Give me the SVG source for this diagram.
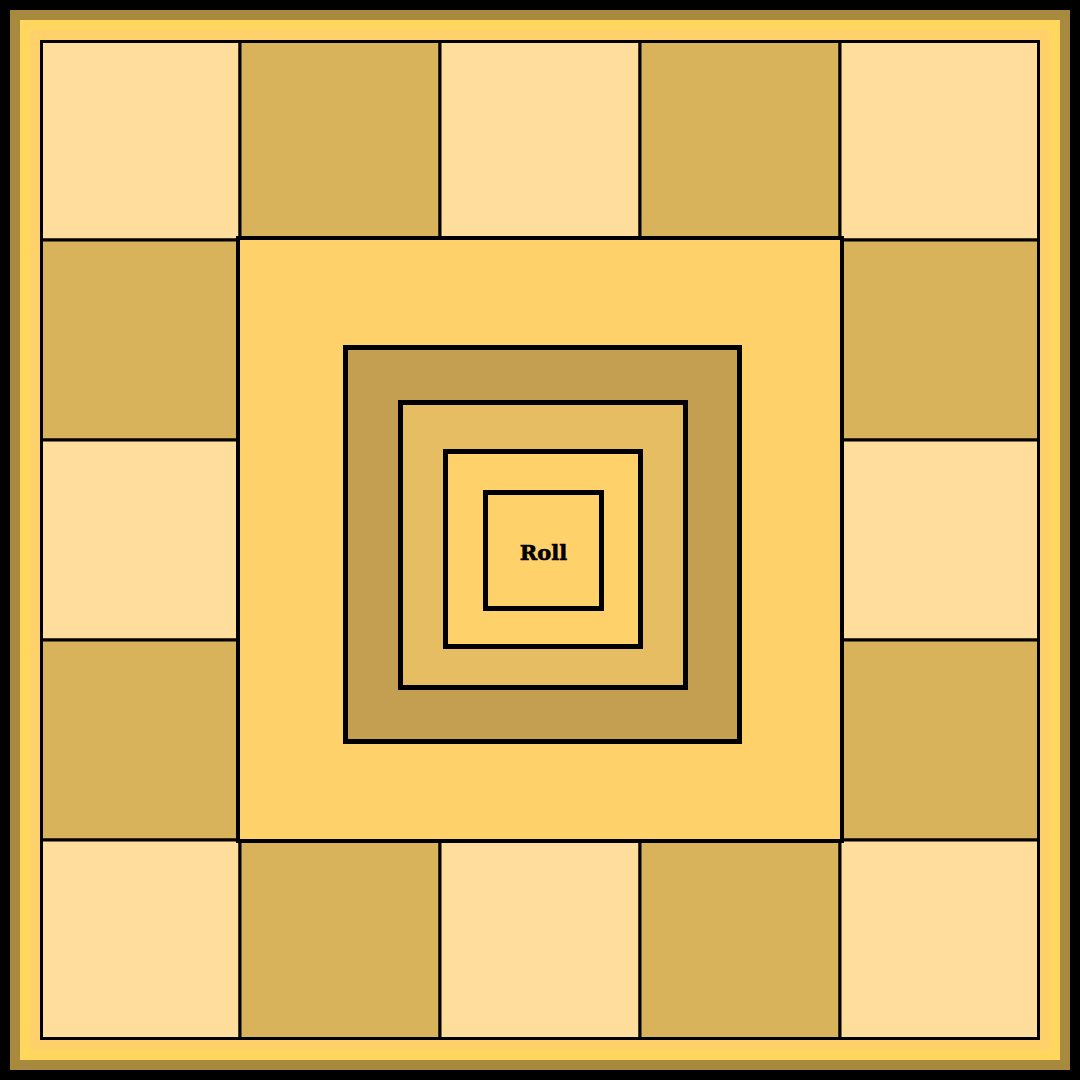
<svg xmlns="http://www.w3.org/2000/svg" width="1080" height="1080" viewBox="0 0 1080 1080">
<style>
.ln{stroke:#000;stroke-width:3}
.light{fill:#ffdd9c}
.dark{fill:#d9b25c}
.ring{stroke:#000;stroke-width:5}
</style>
<g id="frame">
<rect x="0" y="0" width="1080" height="1080" fill="#000"/>
<rect x="10" y="10" width="1060" height="1060" fill="#a88a3e"/>
<rect x="20" y="20" width="1040" height="1040" fill="#ffd75e"/>
<rect x="30" y="30" width="1020" height="1020" fill="#ffd16b"/>
</g>
<g id="cells">
<rect id="c-0-0" class="ln light" x="41.5" y="41.5" width="198.5" height="198.5"/>
<rect id="c-0-1" class="ln dark" x="240" y="41.5" width="200" height="198.5"/>
<rect id="c-0-2" class="ln light" x="440" y="41.5" width="200" height="198.5"/>
<rect id="c-0-3" class="ln dark" x="640" y="41.5" width="200" height="198.5"/>
<rect id="c-0-4" class="ln light" x="840" y="41.5" width="198.5" height="198.5"/>
<rect id="c-1-0" class="ln dark" x="41.5" y="240" width="198.5" height="200"/>
<rect id="c-2-0" class="ln light" x="41.5" y="440" width="198.5" height="200"/>
<rect id="c-3-0" class="ln dark" x="41.5" y="640" width="198.5" height="200"/>
<rect id="c-1-4" class="ln dark" x="840" y="240" width="198.5" height="200"/>
<rect id="c-2-4" class="ln light" x="840" y="440" width="198.5" height="200"/>
<rect id="c-3-4" class="ln dark" x="840" y="640" width="198.5" height="200"/>
<rect id="c-4-0" class="ln light" x="41.5" y="840" width="198.5" height="198.5"/>
<rect id="c-4-1" class="ln dark" x="240" y="840" width="200" height="198.5"/>
<rect id="c-4-2" class="ln light" x="440" y="840" width="200" height="198.5"/>
<rect id="c-4-3" class="ln dark" x="640" y="840" width="200" height="198.5"/>
<rect id="c-4-4" class="ln light" x="840" y="840" width="198.5" height="198.5"/>
</g>
<g id="center">
<rect x="238" y="238" width="604" height="603" fill="#ffd16b" stroke="#000" stroke-width="4"/>
</g>
<g id="rings">
<rect id="ring1" class="ring" x="345.5" y="347.5" width="394" height="394" fill="#c49f52"/>
<rect id="ring2" class="ring" x="400.5" y="402.5" width="285" height="285" fill="#e6bd62"/>
<rect id="ring3" class="ring" x="445.5" y="451.5" width="195" height="195" fill="#ffd16b"/>
</g>
<g id="roll">
<rect class="ring" x="485.5" y="492.5" width="116" height="116" fill="#ffd16b"/>
<text x="543.5" y="560" text-anchor="middle" font-family="'DejaVu Serif', serif" font-weight="bold" font-size="21" stroke="#000" stroke-width="0.6" fill="#000">Roll</text>
</g>
</svg>
